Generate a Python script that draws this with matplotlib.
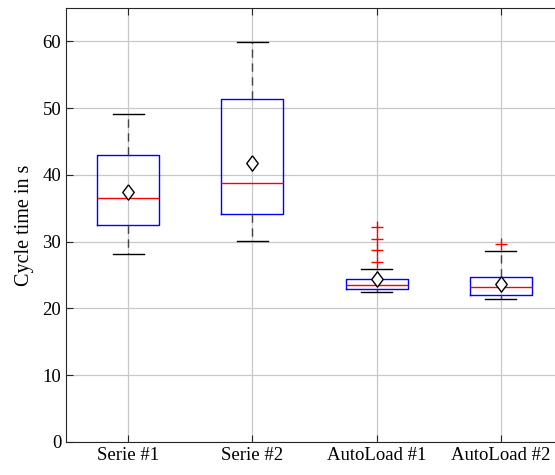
import matplotlib.pyplot as plt
import numpy as np

labels = ['Serie #1', 'Serie #2', 'AutoLoad #1', 'AutoLoad #2']
medians = [36.5, 38.85, 23.5, 23.2]
q1 = [32.5, 34.15, 22.9, 22.0]
q3 = [43.05, 51.35, 24.35, 24.7]
whislo = [28.1, 30.1, 22.45, 21.35]
whishi = [49.1, 59.85, 25.95, 28.65]
means = [37.5, 41.8, 24.35, 23.7]
fliers = [[], [], [32.15, 30.45, 28.75, 27.0], [29.65]]

plt.rcParams['font.family'] = ['Liberation Serif', 'DejaVu Serif']

stats = []
for i in range(len(labels)):
    stats.append({'med': medians[i], 'q1': q1[i], 'q3': q3[i],
                  'whislo': whislo[i], 'whishi': whishi[i],
                  'mean': means[i], 'fliers': fliers[i], 'label': labels[i]})

# diamond a bit taller than wide, like matlab's
diamond = [(0, 1), (0.75, 0), (0, -1), (-0.75, 0), (0, 1)]

fig = plt.figure(figsize=(5.55, 4.75), dpi=100)
ax = fig.add_axes([0.1189, 0.0695, 0.8955, 0.9137])

ax.bxp(stats, positions=[1, 2, 3, 4], widths=0.5, showmeans=True,
       boxprops=dict(color='blue', linewidth=1),
       medianprops=dict(color='red', linewidth=1),
       whiskerprops=dict(color='#444444', linewidth=1, linestyle=(0, (6, 4))),
       capprops=dict(color='black', linewidth=1),
       meanprops=dict(marker=diamond, markerfacecolor='white', markeredgecolor='black',
                      markersize=11, markeredgewidth=1),
       flierprops=dict(marker='+', markeredgecolor='red', markersize=8,
                       markeredgewidth=1, linestyle='none'))

ax.set_xlim(0.5, 4.5)
ax.set_ylim(0, 65)
ax.set_yticks(np.arange(0, 61, 10))
ax.set_xticks([1, 2, 3, 4])
ax.set_xticklabels(labels)
ax.set_ylabel('Cycle time in s', fontsize=14.5, labelpad=6)
ax.grid(True, color='#c8c8c8', linewidth=0.9)
ax.set_axisbelow(True)
ax.tick_params(direction='in', top=True, right=True, labelsize=13.5, length=5,
               color='#262626')
for s in ax.spines.values():
    s.set_color('#262626')
    s.set_linewidth(0.8)

plt.savefig('out.png', dpi=100)
